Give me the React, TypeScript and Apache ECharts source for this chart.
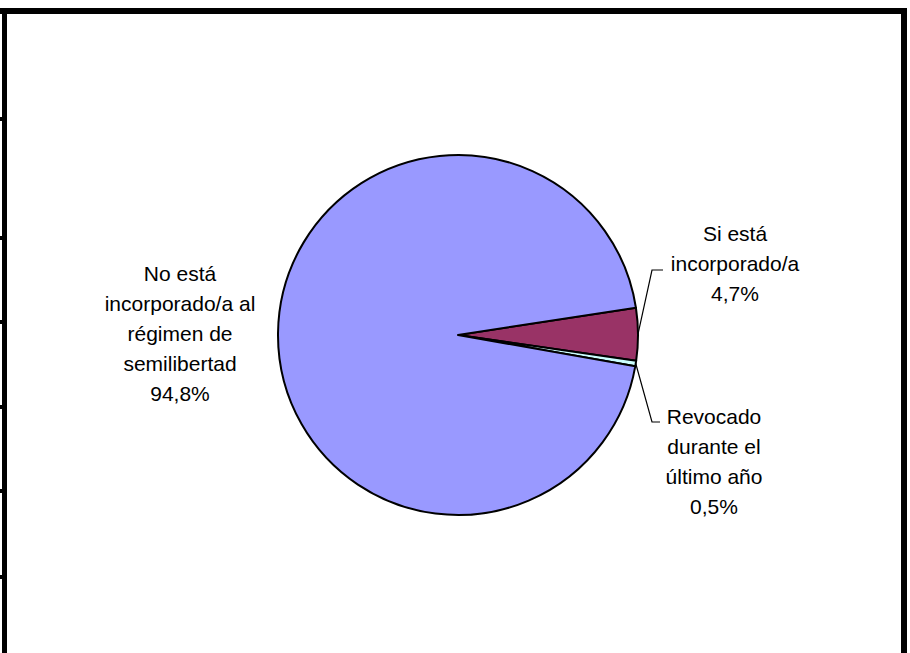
import React, { useEffect, useRef } from "react";
import * as echarts from "echarts";

const categories = [
  "Si está\nincorporado/a",
  "Revocado\ndurante el\núltimo año",
  "No está\nincorporado/a al\nrégimen de\nsemilibertad",
];
const values = [4.7, 0.5, 94.8];
const valueLabels = ["4,7%", "0,5%", "94,8%"];
const colors = ["#993366", "#CCFFFF", "#9999FF"];
const tickYs = [119, 238, 322, 407, 491, 577];

export default function App() {
  const ref = useRef<HTMLDivElement>(null);
  useEffect(() => {
    if (!ref.current) return;
    const chart = echarts.init(ref.current, null, { renderer: "svg" });
    const labelPos = [
      { x: 735, y: 263, mid: [652, 270], end: [663, 270] },
      { x: 714, y: 461, mid: [652, 422], end: [660, 422] },
      { x: 180, y: 333 },
    ];
    const graphic: any[] = [
      { type: "rect", shape: { x: 0, y: 8, width: 907, height: 6 }, style: { fill: "#000" } },
      { type: "rect", shape: { x: 2, y: 8, width: 5, height: 645 }, style: { fill: "#000" } },
      { type: "rect", shape: { x: 901, y: 8, width: 6, height: 645 }, style: { fill: "#000" } },
      ...tickYs.map((y) => ({
        type: "rect",
        shape: { x: 0, y: y - 2, width: 3, height: 4 },
        style: { fill: "#000" },
      })),
    ];
    chart.setOption({
      animation: false,
      backgroundColor: "#fff",
      graphic,
      series: [
        {
          type: "pie",
          center: [458, 335],
          radius: 180,
          startAngle: 8.7,
          clockwise: true,
          avoidLabelOverlap: false,
          itemStyle: { borderColor: "#000", borderWidth: 2 },
          label: {
            show: true,
            position: "outside",
            color: "#000",
            fontFamily: "Liberation Sans, Arial, sans-serif",
            fontSize: 21,
            lineHeight: 30,
            align: "center",
            formatter: (p: any) => `${categories[p.dataIndex]}\n${valueLabels[p.dataIndex]}`,
          },
          labelLine: {
            show: true,
            length: 10,
            length2: 10,
            lineStyle: { color: "#000", width: 1.2 },
          },
          labelLayout: (params: any) => {
            const lp = labelPos[params.dataIndex];
            const out: any = { x: lp.x, y: lp.y, align: "center", verticalAlign: "middle" };
            if (lp.mid && params.labelLinePoints) {
              const start = params.labelLinePoints[0];
              out.labelLinePoints = [[start[0], start[1]], lp.mid, lp.end];
            }
            return out;
          },
          data: values.map((v, i) => ({
            value: v,
            name: categories[i],
            itemStyle: { color: colors[i] },
            labelLine: { show: i !== 2 },
          })),
        },
      ],
    });
    return () => chart.dispose();
  }, []);
  return (
    <div
      ref={ref}
      style={{ position: "absolute", left: 0, top: 0, width: 910, height: 653 }}
    />
  );
}
